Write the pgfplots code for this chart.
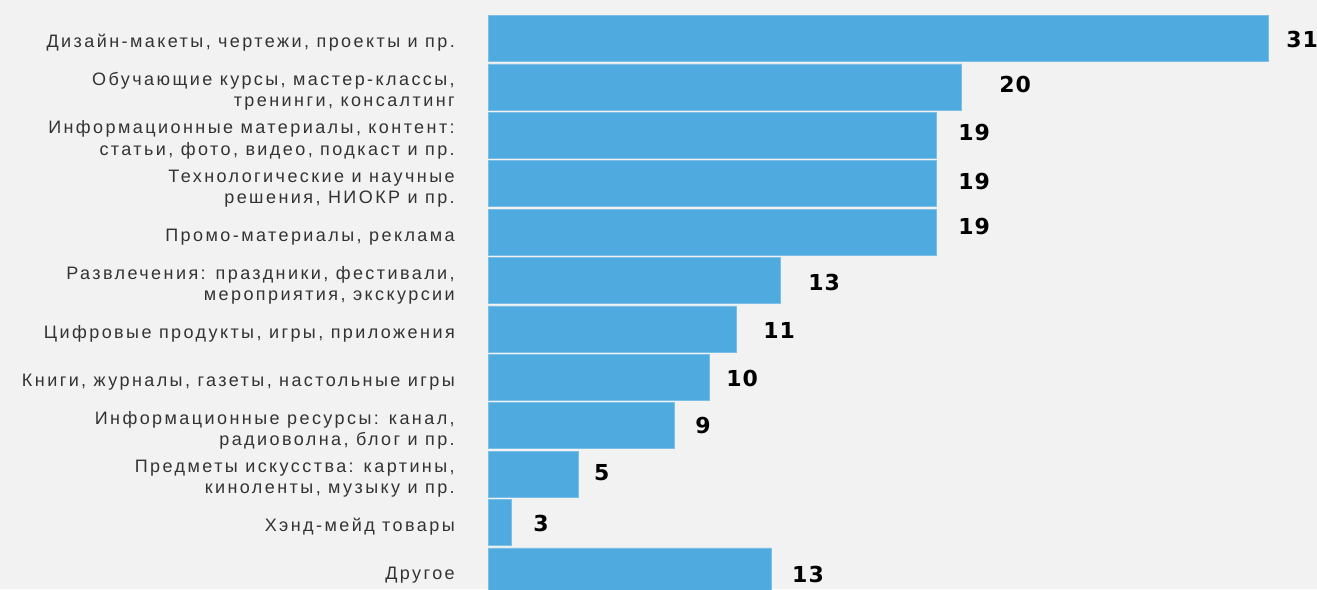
\documentclass[border=0pt]{standalone}
\usepackage{pgfplots}
\pgfplotsset{compat=1.18}
\usepackage{pgfplotstable}
\usepackage{fontspec}
\setmainfont{Liberation Sans}
\newfontfamily\labelfont{Liberation Sans}[LetterSpace=13.5]
\newfontfamily\valfont{DejaVu Sans}[LetterSpace=5]
\definecolor{bg}{HTML}{F2F2F2}
\definecolor{barblue}{HTML}{4FAADF}
\definecolor{txt}{HTML}{333333}

\pgfplotstableread{
len   lx    ly    lab
31.00 31.72 0.03  31
18.83 20.31 0.96  20
17.83 18.68 1.95  19
17.83 18.68 2.96  19
17.83 18.68 3.89  19
11.63 12.72 5.05  13
9.88  10.93 6.04  11
8.81  9.46  7.03  10
7.39  8.23  8.00  9
3.58  4.21  8.96  5
0.91  1.79  10.03 3
11.25 12.08 11.08 13
}\bars

\begin{document}
\begin{tikzpicture}
\useasboundingbox (0,0) rectangle (987.75pt,441.75pt);
\fill[bg] (0,0) rectangle (987.75pt,441.75pt);
\clip (0,0) rectangle (987.75pt,441.75pt);
\begin{axis}[
  at={(366pt,431.025pt)}, anchor=north west,
  scale only axis, width=622.71pt, height=435.6pt,
  xmin=0, xmax=33, ymin=-0.5, ymax=11.5, y dir=reverse,
  axis line style={draw=none},
  xtick=\empty,
  ytick={0,...,11},
  major tick length=0pt,
  yticklabels={
    {Дизайн-макеты, чертежи, проекты и пр.},
    {Обучающие курсы, мастер-классы,\\тренинги, консалтинг},
    {Информационные материалы, контент:\\статьи, фото, видео, подкаст и пр.},
    {Технологические и научные\\решения, НИОКР и пр.},
    {Промо-материалы, реклама},
    {Развлечения: праздники, фестивали,\\мероприятия, экскурсии},
    {Цифровые продукты, игры, приложения},
    {Книги, журналы, газеты, настольные игры},
    {Информационные ресурсы: канал,\\радиоволна, блог и пр.},
    {Предметы искусства: картины,\\киноленты, музыку и пр.},
    {Хэнд-мейд товары},
    {Другое}},
  yticklabel style={font=\labelfont\fontsize{13.5}{16}\selectfont, text=txt,
    align=right, anchor=east, inner sep=0pt, xshift=-24.75pt, yshift=-3.5pt},
  clip=false,
]
\addplot[xbar, bar width=34.5pt, bar shift=0pt, fill=barblue, draw=barblue!75!white, line width=0.5pt]
  table[x=len, y expr=\coordindex] {\bars};
\addplot[draw=none, mark=none, nodes near coords, point meta=explicit symbolic,
  every node near coord/.append style={anchor=west, inner sep=0pt,
    font=\valfont\bfseries\fontsize{16.5}{16.5}\selectfont, text=black}]
  table[x=lx, y=ly, meta=lab] {\bars};
\end{axis}
\end{tikzpicture}
\end{document}
